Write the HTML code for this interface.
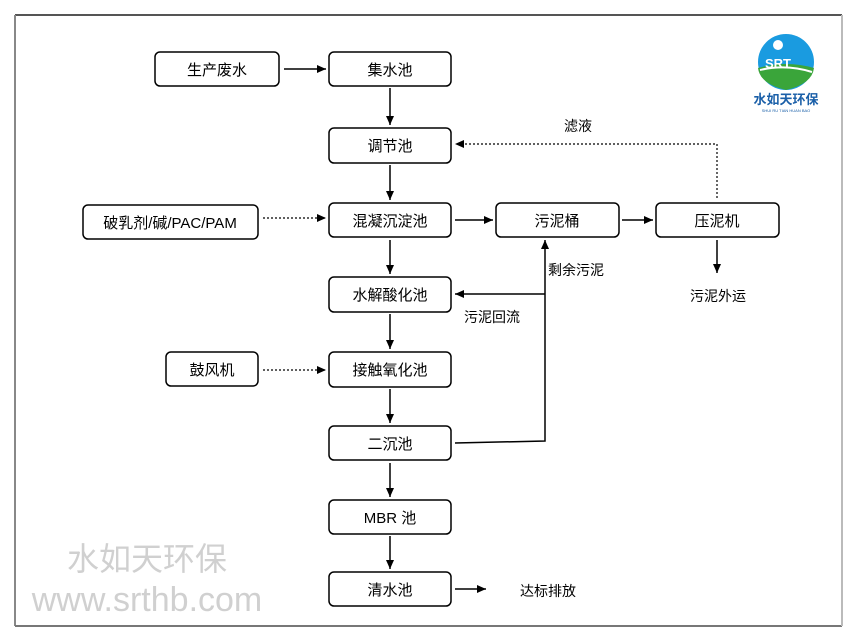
<!DOCTYPE html>
<html><head><meta charset="utf-8"><style>
html,body{margin:0;padding:0;background:#fff;}
svg{display:block;}
text{font-family:"Liberation Sans","Noto Sans CJK SC",sans-serif;}
</style></head><body>
<svg width="858" height="642" viewBox="0 0 858 642" xmlns="http://www.w3.org/2000/svg">
<defs>
<marker id="a" markerWidth="10" markerHeight="10" refX="9" refY="5" orient="auto" markerUnits="userSpaceOnUse">
<path d="M0,1 L9,5 L0,9 z" fill="#000"/></marker>
</defs>
<rect width="858" height="642" fill="#fff"/>
<line x1="15" y1="15" x2="842" y2="15" stroke="#555" stroke-width="2"/>
<line x1="15" y1="15" x2="15" y2="626" stroke="#888" stroke-width="2"/>
<line x1="15" y1="626" x2="842" y2="626" stroke="#777" stroke-width="2"/>
<line x1="842" y1="15" x2="842" y2="626" stroke="#bbb" stroke-width="2"/>

<g fill="#fff" stroke="#000" stroke-width="1.5">
<rect x="155" y="52" width="124" height="34" rx="5"/>
<rect x="329" y="52" width="122" height="34" rx="5"/>
<rect x="329" y="128" width="122" height="35" rx="5"/>
<rect x="329" y="203" width="122" height="34" rx="5"/>
<rect x="496" y="203" width="123" height="34" rx="5"/>
<rect x="656" y="203" width="123" height="34" rx="5"/>
<rect x="83" y="205" width="175" height="34" rx="5"/>
<rect x="329" y="277" width="122" height="35" rx="5"/>
<rect x="166" y="352" width="92" height="34" rx="5"/>
<rect x="329" y="352" width="122" height="35" rx="5"/>
<rect x="329" y="426" width="122" height="34" rx="5"/>
<rect x="329" y="500" width="122" height="34" rx="5"/>
<rect x="329" y="572" width="122" height="34" rx="5"/>
</g>

<g font-size="15" text-anchor="middle" fill="#000">
<text x="217" y="75">生产废水</text>
<text x="390" y="75">集水池</text>
<text x="390" y="151">调节池</text>
<text x="390" y="226">混凝沉淀池</text>
<text x="557" y="226">污泥桶</text>
<text x="717" y="226">压泥机</text>
<text x="170" y="228">破乳剂/碱/PAC/PAM</text>
<text x="390" y="300">水解酸化池</text>
<text x="212" y="375">鼓风机</text>
<text x="390" y="375">接触氧化池</text>
<text x="390" y="449">二沉池</text>
<text x="390" y="523">MBR 池</text>
<text x="390" y="595">清水池</text>
</g>
<g font-size="14" fill="#000">
<text x="564" y="131">滤液</text>
<text x="548" y="275">剩余污泥</text>
<text x="464" y="322">污泥回流</text>
<text x="690" y="301">污泥外运</text>
<text x="520" y="596">达标排放</text>
</g>

<g stroke="#000" stroke-width="1.5" fill="none" marker-end="url(#a)">
<line x1="284" y1="69" x2="326" y2="69"/>
<line x1="390" y1="88" x2="390" y2="125"/>
<line x1="390" y1="165" x2="390" y2="200"/>
<line x1="455" y1="220" x2="493" y2="220"/>
<line x1="622" y1="220" x2="653" y2="220"/>
<line x1="390" y1="240" x2="390" y2="274"/>
<line x1="390" y1="314" x2="390" y2="349"/>
<line x1="390" y1="389" x2="390" y2="423"/>
<line x1="390" y1="463" x2="390" y2="497"/>
<line x1="390" y1="536" x2="390" y2="569"/>
<line x1="455" y1="589" x2="486" y2="589"/>
<line x1="717" y1="240" x2="717" y2="273"/>
<polyline points="455,443 545,441 545,240"/>
<line x1="545" y1="294" x2="455" y2="294"/>
</g>
<g stroke="#000" stroke-width="1.2" fill="none" stroke-dasharray="2,2" marker-end="url(#a)">
<line x1="263" y1="218" x2="326" y2="218"/>
<line x1="263" y1="370" x2="326" y2="370"/>
<polyline points="717,198 717,144 455,144"/>
</g>

<circle cx="786" cy="62" r="28" fill="#1a9be0"/>
<path d="M758,68 Q786,60 814,68 Q812,84 786,90 Q760,84 758,68z" fill="#3aa53a"/>
<path d="M760,70 Q786,64 812,72" stroke="#fff" stroke-width="2" fill="none"/>
<circle cx="778" cy="45" r="5" fill="#fff"/>
<text x="778" y="68" font-size="13" font-weight="bold" fill="#fff" text-anchor="middle">SRT</text>
<text x="786" y="104" font-size="13" font-weight="bold" fill="#1a5fa8" text-anchor="middle">水如天环保</text>
<text x="786" y="112" font-size="4" fill="#1a5fa8" text-anchor="middle">SHUI RU TIAN HUAN BAO</text>

<text x="147" y="570" font-size="32" fill="#d0d0d0" text-anchor="middle">水如天环保</text>
<text x="147" y="611" font-size="34" fill="#d0d0d0" text-anchor="middle">www.srthb.com</text>
</svg>
</body></html>
